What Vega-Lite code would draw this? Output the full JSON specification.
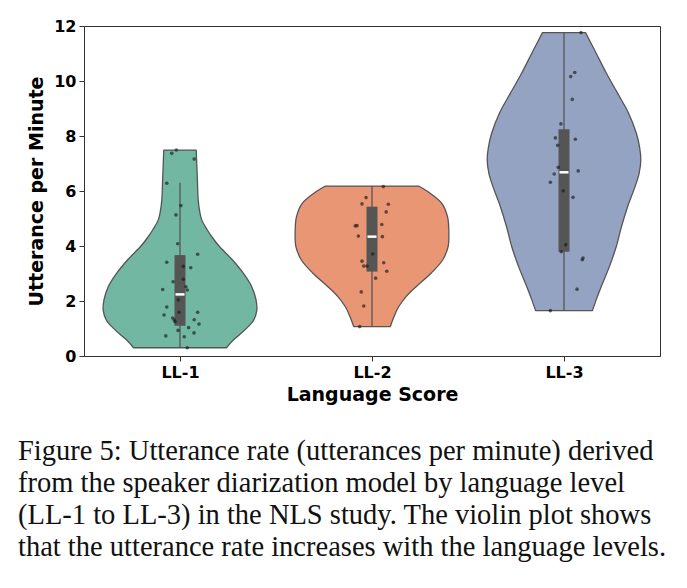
{
  "$schema": "https://vega.github.io/schema/vega-lite/v6.json",
  "width": 576,
  "height": 330,
  "autosize": {"type": "none"},
  "padding": {"left": 84, "top": 26, "right": 27, "bottom": 232},
  "background": "white",
  "config": {
    "view": {"stroke": "#333333", "strokeWidth": 1},
    "font": "DejaVu Sans",
    "axis": {
      "labelFont": "DejaVu Sans",
      "labelFontSize": 16,
      "labelFontWeight": "bold",
      "labelColor": "#000000",
      "titleFont": "DejaVu Sans",
      "titleFontSize": 19,
      "titleFontWeight": "bold",
      "titleColor": "#000000",
      "tickSize": 5,
      "tickColor": "#333333",
      "domainColor": "#333333",
      "grid": false
    }
  },
  "title": {
    "text": [
      "Figure 5: Utterance rate (utterances per minute) derived",
      "from the speaker diarization model by language level",
      "(LL-1 to LL-3) in the NLS study. The violin plot shows",
      "that the utterance rate increases with the language levels."
    ],
    "orient": "bottom",
    "anchor": "start",
    "frame": "group",
    "font": "Liberation Serif",
    "fontSize": 28.5,
    "fontWeight": "normal",
    "color": "#111111",
    "lineHeight": 32,
    "dx": -66,
    "offset": 33
  },
  "datasets": {
    "violin": [
      {"level": "LL-1", "value": 7.49, "density": 0.211},
      {"level": "LL-1", "value": 6.8, "density": 0.221},
      {"level": "LL-1", "value": 6.28, "density": 0.228},
      {"level": "LL-1", "value": 5.67, "density": 0.237},
      {"level": "LL-1", "value": 5.2, "density": 0.26},
      {"level": "LL-1", "value": 4.95, "density": 0.283},
      {"level": "LL-1", "value": 4.6, "density": 0.352},
      {"level": "LL-1", "value": 4.3, "density": 0.423},
      {"level": "LL-1", "value": 4.0, "density": 0.508},
      {"level": "LL-1", "value": 3.49, "density": 0.684},
      {"level": "LL-1", "value": 3.01, "density": 0.824},
      {"level": "LL-1", "value": 2.52, "density": 0.934},
      {"level": "LL-1", "value": 2.04, "density": 0.99},
      {"level": "LL-1", "value": 1.67, "density": 1.0},
      {"level": "LL-1", "value": 1.31, "density": 0.96},
      {"level": "LL-1", "value": 0.95, "density": 0.846},
      {"level": "LL-1", "value": 0.58, "density": 0.694},
      {"level": "LL-1", "value": 0.3, "density": 0.605},
      {"level": "LL-2", "value": 6.18, "density": 0.606},
      {"level": "LL-2", "value": 5.92, "density": 0.757},
      {"level": "LL-2", "value": 5.55, "density": 0.909},
      {"level": "LL-2", "value": 5.07, "density": 0.983},
      {"level": "LL-2", "value": 4.58, "density": 1.0},
      {"level": "LL-2", "value": 3.98, "density": 0.991},
      {"level": "LL-2", "value": 3.49, "density": 0.919},
      {"level": "LL-2", "value": 3.01, "density": 0.769},
      {"level": "LL-2", "value": 2.52, "density": 0.574},
      {"level": "LL-2", "value": 2.16, "density": 0.444},
      {"level": "LL-2", "value": 1.79, "density": 0.347},
      {"level": "LL-2", "value": 1.43, "density": 0.286},
      {"level": "LL-2", "value": 1.07, "density": 0.238},
      {"level": "LL-3", "value": 11.76, "density": 0.28},
      {"level": "LL-3", "value": 11.01, "density": 0.419},
      {"level": "LL-3", "value": 10.28, "density": 0.552},
      {"level": "LL-3", "value": 9.55, "density": 0.699},
      {"level": "LL-3", "value": 8.83, "density": 0.841},
      {"level": "LL-3", "value": 8.1, "density": 0.942},
      {"level": "LL-3", "value": 7.61, "density": 0.983},
      {"level": "LL-3", "value": 7.13, "density": 1.0},
      {"level": "LL-3", "value": 6.64, "density": 0.978},
      {"level": "LL-3", "value": 6.16, "density": 0.925},
      {"level": "LL-3", "value": 5.43, "density": 0.828},
      {"level": "LL-3", "value": 4.7, "density": 0.748},
      {"level": "LL-3", "value": 3.98, "density": 0.681},
      {"level": "LL-3", "value": 3.25, "density": 0.591},
      {"level": "LL-3", "value": 2.52, "density": 0.484},
      {"level": "LL-3", "value": 2.04, "density": 0.419},
      {"level": "LL-3", "value": 1.65, "density": 0.37}
    ],
    "box": [
      {"level": "LL-1", "wlo": 0.3, "q1": 1.1, "med": 2.24, "q3": 3.67, "whi": 6.3},
      {"level": "LL-2", "wlo": 1.07, "q1": 3.07, "med": 4.34, "q3": 5.43, "whi": 6.18},
      {"level": "LL-3", "wlo": 1.65, "q1": 3.79, "med": 6.68, "q3": 8.25, "whi": 11.76}
    ],
    "points": [
      {"level": "LL-1", "jitter": -0.019, "rate": 7.49},
      {"level": "LL-1", "jitter": -0.043, "rate": 7.37},
      {"level": "LL-1", "jitter": 0.074, "rate": 7.16},
      {"level": "LL-1", "jitter": -0.069, "rate": 6.28},
      {"level": "LL-1", "jitter": 0.005, "rate": 5.47},
      {"level": "LL-1", "jitter": -0.021, "rate": 5.13},
      {"level": "LL-1", "jitter": -0.012, "rate": 4.08},
      {"level": "LL-1", "jitter": 0.092, "rate": 3.7},
      {"level": "LL-1", "jitter": -0.069, "rate": 3.41},
      {"level": "LL-1", "jitter": 0.017, "rate": 3.26},
      {"level": "LL-1", "jitter": 0.056, "rate": 3.21},
      {"level": "LL-1", "jitter": 0.017, "rate": 2.79},
      {"level": "LL-1", "jitter": -0.036, "rate": 2.7},
      {"level": "LL-1", "jitter": 0.031, "rate": 2.52},
      {"level": "LL-1", "jitter": 0.038, "rate": 2.4},
      {"level": "LL-1", "jitter": -0.09, "rate": 2.42},
      {"level": "LL-1", "jitter": -0.009, "rate": 2.04},
      {"level": "LL-1", "jitter": -0.069, "rate": 1.78},
      {"level": "LL-1", "jitter": -0.005, "rate": 1.59},
      {"level": "LL-1", "jitter": 0.092, "rate": 1.59},
      {"level": "LL-1", "jitter": -0.083, "rate": 1.49},
      {"level": "LL-1", "jitter": -0.038, "rate": 1.38},
      {"level": "LL-1", "jitter": -0.03, "rate": 1.31},
      {"level": "LL-1", "jitter": 0.074, "rate": 1.32},
      {"level": "LL-1", "jitter": -0.026, "rate": 1.25},
      {"level": "LL-1", "jitter": 0.099, "rate": 1.16},
      {"level": "LL-1", "jitter": 0.045, "rate": 1.03},
      {"level": "LL-1", "jitter": -0.01, "rate": 0.93},
      {"level": "LL-1", "jitter": 0.073, "rate": 0.84},
      {"level": "LL-1", "jitter": -0.074, "rate": 0.73},
      {"level": "LL-1", "jitter": 0.022, "rate": 0.7},
      {"level": "LL-1", "jitter": 0.038, "rate": 0.3},
      {"level": "LL-2", "jitter": 0.059, "rate": 6.16},
      {"level": "LL-2", "jitter": -0.031, "rate": 5.76},
      {"level": "LL-2", "jitter": 0.085, "rate": 5.52},
      {"level": "LL-2", "jitter": -0.052, "rate": 5.53},
      {"level": "LL-2", "jitter": 0.074, "rate": 5.24},
      {"level": "LL-2", "jitter": -0.087, "rate": 4.73},
      {"level": "LL-2", "jitter": -0.078, "rate": 4.74},
      {"level": "LL-2", "jitter": 0.051, "rate": 4.78},
      {"level": "LL-2", "jitter": -0.071, "rate": 4.36},
      {"level": "LL-2", "jitter": 0.054, "rate": 4.34},
      {"level": "LL-2", "jitter": 0.004, "rate": 3.71},
      {"level": "LL-2", "jitter": -0.052, "rate": 3.45},
      {"level": "LL-2", "jitter": 0.061, "rate": 3.39},
      {"level": "LL-2", "jitter": -0.043, "rate": 3.27},
      {"level": "LL-2", "jitter": -0.026, "rate": 3.27},
      {"level": "LL-2", "jitter": 0.077, "rate": 3.08},
      {"level": "LL-2", "jitter": 0.019, "rate": 2.83},
      {"level": "LL-2", "jitter": -0.056, "rate": 2.33},
      {"level": "LL-2", "jitter": -0.043, "rate": 1.82},
      {"level": "LL-2", "jitter": -0.064, "rate": 1.07},
      {"level": "LL-3", "jitter": 0.089, "rate": 11.76},
      {"level": "LL-3", "jitter": 0.056, "rate": 10.31},
      {"level": "LL-3", "jitter": 0.035, "rate": 10.16},
      {"level": "LL-3", "jitter": 0.043, "rate": 9.33},
      {"level": "LL-3", "jitter": -0.016, "rate": 8.44},
      {"level": "LL-3", "jitter": -0.045, "rate": 7.93},
      {"level": "LL-3", "jitter": 0.059, "rate": 7.88},
      {"level": "LL-3", "jitter": -0.033, "rate": 7.66},
      {"level": "LL-3", "jitter": -0.03, "rate": 6.86},
      {"level": "LL-3", "jitter": 0.074, "rate": 6.73},
      {"level": "LL-3", "jitter": -0.051, "rate": 6.62},
      {"level": "LL-3", "jitter": -0.071, "rate": 6.32},
      {"level": "LL-3", "jitter": -0.004, "rate": 6.01},
      {"level": "LL-3", "jitter": 0.047, "rate": 5.77},
      {"level": "LL-3", "jitter": 0.009, "rate": 4.05},
      {"level": "LL-3", "jitter": -0.014, "rate": 3.79},
      {"level": "LL-3", "jitter": 0.099, "rate": 3.56},
      {"level": "LL-3", "jitter": 0.095, "rate": 3.5},
      {"level": "LL-3", "jitter": 0.068, "rate": 2.43},
      {"level": "LL-3", "jitter": -0.071, "rate": 1.65}
    ]
  },
  "layer": [
    {
      "data": {"name": "violin"},
      "transform": [
        {"calculate": "indexof(['LL-1','LL-2','LL-3'], datum.level) + 1", "as": "pos"},
        {"calculate": "datum.pos - 0.4 * datum.density", "as": "lo"},
        {"calculate": "datum.pos + 0.4 * datum.density", "as": "hi"}
      ],
      "mark": {"type": "area", "orient": "horizontal", "interpolate": "catmull-rom", "stroke": "#555555", "strokeWidth": 1.3, "strokeJoin": "round", "opacity": 1},
      "encoding": {
        "y": {"field": "value", "type": "quantitative", "scale": {"domain": [0, 12], "nice": false, "zero": false},
              "axis": {"title": "Utterance per Minute", "values": [0, 2, 4, 6, 8, 10, 12], "labelPadding": 3, "titlePadding": 7}},
        "x": {"field": "lo", "type": "quantitative", "scale": {"domain": [0.5, 3.5], "nice": false, "zero": false},
              "axis": {"title": "Language Score", "values": [1, 2, 3], "labelExpr": "'LL-' + datum.value", "labelPadding": 3, "titlePadding": 5}},
        "x2": {"field": "hi"},
        "color": {"field": "level", "type": "nominal", "scale": {"domain": ["LL-1", "LL-2", "LL-3"], "range": ["#71b7a1", "#e99675", "#95a3c3"]}, "legend": null}
      }
    },
    {
      "data": {"name": "box"},
      "transform": [{"calculate": "indexof(['LL-1','LL-2','LL-3'], datum.level) + 1", "as": "pos"}],
      "mark": {"type": "rule", "color": "#555555", "strokeWidth": 1.3},
      "encoding": {
        "x": {"field": "pos", "type": "quantitative"},
        "y": {"field": "wlo", "type": "quantitative"},
        "y2": {"field": "whi"}
      }
    },
    {
      "data": {"name": "box"},
      "transform": [{"calculate": "indexof(['LL-1','LL-2','LL-3'], datum.level) + 1", "as": "pos"}],
      "mark": {"type": "rule", "color": "#555555", "strokeWidth": 11, "strokeCap": "butt"},
      "encoding": {
        "x": {"field": "pos", "type": "quantitative"},
        "y": {"field": "q1", "type": "quantitative"},
        "y2": {"field": "q3"}
      }
    },
    {
      "data": {"name": "box"},
      "transform": [{"calculate": "indexof(['LL-1','LL-2','LL-3'], datum.level) + 1", "as": "pos"}],
      "mark": {"type": "tick", "orient": "horizontal", "color": "white", "size": 9, "thickness": 2.5, "opacity": 1},
      "encoding": {
        "x": {"field": "pos", "type": "quantitative"},
        "y": {"field": "med", "type": "quantitative"}
      }
    },
    {
      "data": {"name": "points"},
      "transform": [
        {"calculate": "indexof(['LL-1','LL-2','LL-3'], datum.level) + 1 + datum.jitter", "as": "xpos"}
      ],
      "mark": {"type": "circle", "size": 13, "color": "#1a1a1a", "opacity": 0.65},
      "encoding": {
        "x": {"field": "xpos", "type": "quantitative"},
        "y": {"field": "rate", "type": "quantitative"}
      }
    }
  ]
}
